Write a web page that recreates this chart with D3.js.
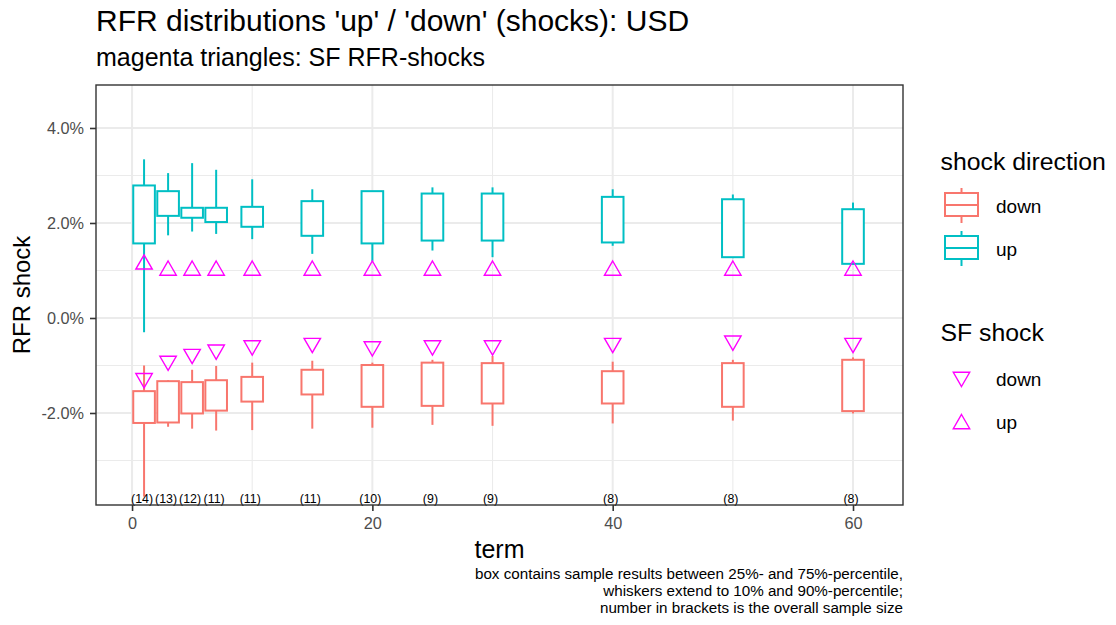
<!DOCTYPE html>
<html>
<head>
<meta charset="utf-8">
<script src="https://cdn.jsdelivr.net/npm/d3@7"></script>
<style>
  html, body { margin: 0; padding: 0; background: #fff; }
  svg { display: block; font-family: "Liberation Sans", Arial, sans-serif; }
</style>
</head>
<body>
<svg id="chart" width="1116" height="625"></svg>
<script>
// Terms (years) and sample sizes
const terms  = [1, 3, 5, 7, 10, 15, 20, 25, 30, 40, 50, 60];
const counts = [14, 13, 12, 11, 11, 11, 10, 9, 9, 8, 8, 8];

// 'up' shock distribution (in %): 10/25/75/90 percentiles
const upP10 = [-0.30, 1.74, 1.82, 1.77, 1.66, 1.35, 1.19, 1.42, 1.28, 1.52, 1.26, 1.12];
const upP25 = [1.57, 2.15, 2.11, 2.02, 1.92, 1.73, 1.57, 1.63, 1.63, 1.59, 1.28, 1.14];
const upP75 = [2.79, 2.67, 2.32, 2.32, 2.34, 2.46, 2.67, 2.62, 2.62, 2.55, 2.50, 2.29];
const upP90 = [3.34, 3.05, 3.26, 3.12, 2.92, 2.71, 2.67, 2.75, 2.75, 2.71, 2.60, 2.43];

// 'down' shock distribution (in %)
const dnP10 = [-3.76, -2.29, -2.33, -2.37, -2.36, -2.33, -2.31, -2.25, -2.27, -2.22, -2.16, -2.01];
const dnP25 = [-2.21, -2.20, -2.01, -1.95, -1.76, -1.61, -1.87, -1.85, -1.80, -1.80, -1.87, -1.96];
const dnP75 = [-1.54, -1.33, -1.35, -1.31, -1.24, -1.09, -0.99, -0.94, -0.95, -1.12, -0.95, -0.88];
const dnP90 = [-1.00, -1.31, -1.09, -1.01, -0.94, -0.90, -0.94, -0.88, -0.80, -0.92, -0.88, -0.83];

// Standard formula shocks (in %)
const sfUp   = [1.13, 1.0, 1.0, 1.0, 1.0, 1.0, 1.0, 1.0, 1.0, 1.0, 1.0, 1.0];
const sfDown = [-1.27, -0.905, -0.76, -0.67, -0.58, -0.53, -0.60, -0.58, -0.58, -0.53, -0.48, -0.53];

const yTicks = [-2, 0, 2, 4];
const xTicks = [0, 20, 40, 60];
const directions = ["down", "up"];

const colUp = "#00BFC4", colDown = "#F8766D", colSF = "#FF00FF";
const gridCol = "#EBEBEB";

const svg = d3.select("#chart");
const panel = { left: 96, right: 903, top: 85, bottom: 505 };

const x = d3.scaleLinear().domain([-3.0, 64.16]).range([panel.left, panel.right]);
const y = d3.scaleLinear().domain([-3.937, 4.905]).range([panel.bottom, panel.top]);

function label(sel, txt, px, py, size, anchor) {
  const t = sel.append("text").attr("x", px).attr("y", py)
    .attr("font-size", size).attr("fill", "#000").text(txt);
  if (anchor) t.attr("text-anchor", anchor);
  return t;
}

// Panel background and grid
const g = svg.append("g");
g.append("rect")
  .attr("x", panel.left).attr("y", panel.top)
  .attr("width", panel.right - panel.left).attr("height", panel.bottom - panel.top)
  .attr("fill", "#fff");

const yMinor = [-3, -1, 1, 3];
const xMinor = [10, 30, 50];
g.selectAll(".ymin").data(yMinor).join("line")
  .attr("x1", panel.left).attr("x2", panel.right)
  .attr("y1", d => y(d)).attr("y2", d => y(d))
  .attr("stroke", gridCol).attr("stroke-width", 1.1);
g.selectAll(".xmin").data(xMinor).join("line")
  .attr("y1", panel.top).attr("y2", panel.bottom)
  .attr("x1", d => x(d)).attr("x2", d => x(d))
  .attr("stroke", gridCol).attr("stroke-width", 1.1);
g.selectAll(".ymaj").data(yTicks).join("line")
  .attr("x1", panel.left).attr("x2", panel.right)
  .attr("y1", d => y(d)).attr("y2", d => y(d))
  .attr("stroke", gridCol).attr("stroke-width", 2);
g.selectAll(".xmaj").data(xTicks).join("line")
  .attr("y1", panel.top).attr("y2", panel.bottom)
  .attr("x1", d => x(d)).attr("x2", d => x(d))
  .attr("stroke", gridCol).attr("stroke-width", 2);

// Box plots
const boxW = 1.8;
function boxRows(p10, p25, p75, p90) {
  return terms.map((t, i) => ({ t, lo: p10[i], q1: p25[i], q3: p75[i], hi: p90[i] }));
}
function drawBoxes(rows, col) {
  const bg = g.append("g").attr("stroke", col).attr("stroke-width", 2).attr("fill", "#fff");
  bg.selectAll(".wu").data(rows).join("line")
    .attr("x1", d => x(d.t)).attr("x2", d => x(d.t))
    .attr("y1", d => y(d.q3)).attr("y2", d => y(d.hi));
  bg.selectAll(".wl").data(rows).join("line")
    .attr("x1", d => x(d.t)).attr("x2", d => x(d.t))
    .attr("y1", d => y(d.q1)).attr("y2", d => y(d.lo));
  bg.selectAll("rect").data(rows).join("rect")
    .attr("x", d => x(d.t - boxW / 2))
    .attr("width", d => x(d.t + boxW / 2) - x(d.t - boxW / 2))
    .attr("y", d => y(d.q3))
    .attr("height", d => y(d.q1) - y(d.q3));
}
drawBoxes(boxRows(dnP10, dnP25, dnP75, dnP90), colDown);
drawBoxes(boxRows(upP10, upP25, upP75, upP90), colUp);

// Triangles (R pch 2 / 6 geometry)
const triS = 6.1;
function triPath(cx, cy, dir) {
  const r = 1.555 * triS, xc = 1.347 * triS, yc = 0.778 * triS;
  if (dir === "up") {
    return `M${cx},${cy - r}L${cx + xc},${cy + yc}L${cx - xc},${cy + yc}Z`;
  }
  return `M${cx},${cy + r}L${cx + xc},${cy - yc}L${cx - xc},${cy - yc}Z`;
}
g.selectAll(".sfu").data(terms).join("path")
  .attr("d", (t, i) => triPath(x(t), y(sfUp[i]), "up"))
  .attr("fill", "none").attr("stroke", colSF).attr("stroke-width", 1.4);
g.selectAll(".sfd").data(terms).join("path")
  .attr("d", (t, i) => triPath(x(t), y(sfDown[i]), "down"))
  .attr("fill", "none").attr("stroke", colSF).attr("stroke-width", 1.4);

// Sample size labels at the bottom of the data range
const labelVal = d3.min(dnP10);
g.selectAll(".cnt").data(terms).join("text")
  .attr("x", (t) => x(t) - 2)
  .attr("y", y(labelVal) + 6)
  .attr("text-anchor", "middle")
  .attr("font-size", 12.4)
  .attr("fill", "#000")
  .text((t, i) => `(${counts[i]})`);

// Panel border
g.append("rect")
  .attr("x", panel.left).attr("y", panel.top)
  .attr("width", panel.right - panel.left).attr("height", panel.bottom - panel.top)
  .attr("fill", "none").attr("stroke", "#333").attr("stroke-width", 1.4);

// Axes
const yAxis = d3.axisLeft(y).tickValues(yTicks).tickSize(6).tickPadding(6);
const ya = svg.append("g").attr("transform", `translate(${panel.left},0)`).call(yAxis);
const xAxis = d3.axisBottom(x).tickValues(xTicks).tickSize(6).tickPadding(6);
const xa = svg.append("g").attr("transform", `translate(0,${panel.bottom})`).call(xAxis);
[ya, xa].forEach(a => {
  a.select(".domain").remove();
  a.selectAll(".tick line").attr("stroke", "#333").attr("stroke-width", 1.6);
  a.selectAll(".tick text").attr("fill", "#4D4D4D").attr("font-size", 16.3)
    .attr("font-family", "Liberation Sans, Arial, sans-serif");
});
ya.selectAll(".tick text").text(d => (d < 0 ? "-" : "") + Math.abs(d).toFixed(1) + "%");

// Titles
label(svg, "RFR distributions 'up' / 'down' (shocks): USD", panel.left, 31, 30);
label(svg, "magenta triangles: SF RFR-shocks", panel.left, 66, 25);
svg.append("text")
  .attr("transform", `translate(30,${(panel.top + panel.bottom) / 2}) rotate(-90)`)
  .attr("text-anchor", "middle").attr("font-size", 24).attr("fill", "#000")
  .text("RFR shock");
label(svg, "term", (panel.left + panel.right) / 2, 558, 25, "middle");

// Caption
const caption = [
  "box contains sample results between 25%- and 75%-percentile,",
  "whiskers extend to 10% and 90%-percentile;",
  "number in brackets is the overall sample size"
];
svg.selectAll(".cap").data(caption).join("text")
  .attr("x", panel.right).attr("y", (d, i) => 579 + i * 17)
  .attr("text-anchor", "end").attr("font-size", 15.2).attr("fill", "#000")
  .text(d => d);

// Legend: shock direction
const lg = svg.append("g");
label(lg, "shock direction", 940.5, 170, 24.8);
const dirCols = { down: colDown, up: colUp };
directions.forEach((d, i) => {
  const cy = 206 + i * 43;
  const kg = lg.append("g").attr("stroke", dirCols[d]).attr("stroke-width", 2).attr("fill", "#fff");
  kg.append("line").attr("x1", 961.5).attr("x2", 961.5).attr("y1", cy - 18).attr("y2", cy + 17);
  kg.append("rect").attr("x", 945).attr("y", cy - 13).attr("width", 33).attr("height", 23);
  kg.append("line").attr("x1", 945).attr("x2", 978).attr("y1", cy - 1).attr("y2", cy - 1);
  label(lg, d, 996, cy + 7, 19);
});

// Legend: SF shock
label(lg, "SF shock", 940.5, 341, 24.8);
directions.forEach((d, i) => {
  const cy = 379 + i * 43;
  lg.append("path").attr("d", triPath(961.5, cy + (d === "up" ? 2 : -2), d))
    .attr("fill", "none").attr("stroke", colSF).attr("stroke-width", 1.4);
  label(lg, d, 996, cy + 7, 19);
});
</script>
</body>
</html>
